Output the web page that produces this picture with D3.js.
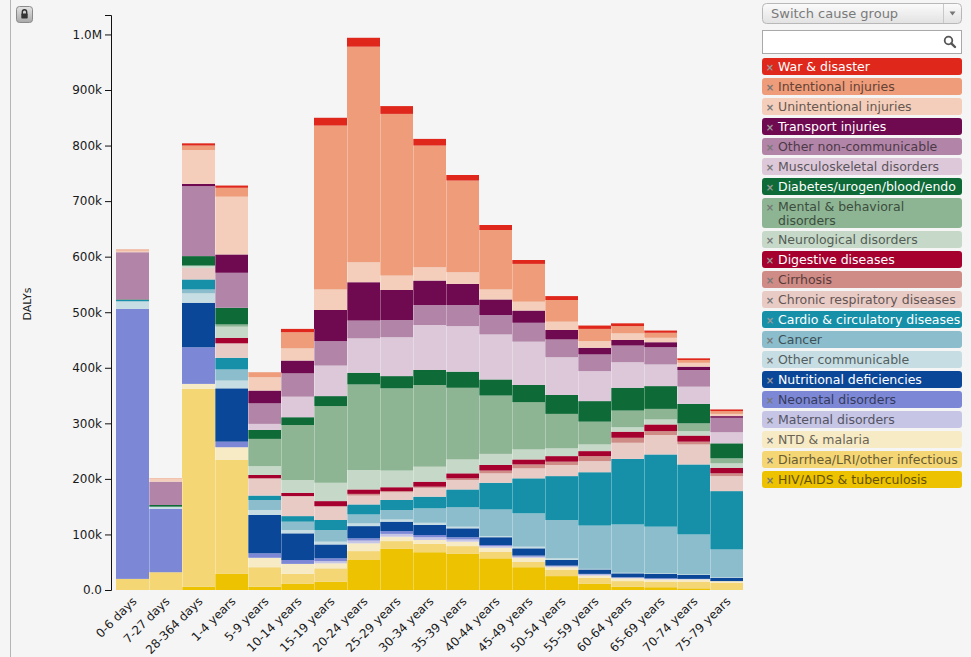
<!DOCTYPE html>
<html>
<head>
<meta charset="utf-8">
<script src="https://cdn.jsdelivr.net/npm/d3@7"></script>
<style>
body { margin: 0; background: #f5f5f5; font-family: "DejaVu Sans", Verdana, sans-serif; }
</style>
</head>
<body>
<svg id="chart" width="971" height="657"></svg>
<script>
// age groups on the x axis
var ageGroups = ["0-6 days", "7-27 days", "28-364 days", "1-4 years", "5-9 years", "10-14 years",
    "15-19 years", "20-24 years", "25-29 years", "30-34 years", "35-39 years", "40-44 years",
    "45-49 years", "50-54 years", "55-59 years", "60-64 years", "65-69 years", "70-74 years", "75-79 years"];

// DALYs in thousands, one array per cause group (stack order bottom -> top)
var hivTb        = [0, 0, 6, 29, 6, 11, 15, 54, 74, 68, 65, 57, 41, 25, 11, 6, 5, 3, 1];
var diarrheaLri  = [20, 32, 356, 205, 35, 18, 24, 16, 14, 15, 14, 12, 10, 11, 11, 10, 10, 12, 12];
var ntdMalaria   = [0, 0, 9, 23, 17, 18, 9, 14, 8, 7, 8, 7, 7, 5, 4, 5, 4, 4, 3];
var maternal     = [0, 0, 0, 0, 0, 0, 4, 5, 5, 5, 4, 3, 2, 2, 2, 1, 1, 1, 0];
var neonatal     = [486, 114, 66, 10, 8, 7, 5, 4, 5, 4, 4, 2, 2, 1, 1, 1, 1, 0, 0];
var nutritional  = [0, 0, 80, 96, 69, 48, 25, 22, 17, 18, 16, 14, 13, 10, 8, 7, 8, 7, 6];
var otherComm    = [13, 4, 17, 14, 9, 6, 5, 5, 4, 4, 3, 2, 3, 3, 1, 1, 1, 1, 1];
var cancer       = [1, 0, 7, 20, 18, 15, 21, 16, 17, 26, 35, 48, 60, 69, 78, 87, 84, 72, 50];
var cardio       = [2, 0, 18, 21, 8, 10, 18, 18, 18, 21, 32, 48, 63, 79, 96, 118, 130, 126, 105];
var chronicResp  = [0, 0, 21, 26, 31, 36, 24, 16, 14, 16, 17, 17, 18, 20, 20, 29, 35, 36, 27];
var cirrhosis    = [0, 0, 0, 0, 0, 0, 1, 3, 2, 2, 3, 5, 7, 6, 9, 9, 7, 5, 5];
var digestive    = [0, 0, 0, 10, 6, 6, 9, 8, 7, 9, 9, 10, 9, 10, 9, 11, 12, 11, 10];
var neurological = [0, 0, 4, 20, 16, 23, 33, 35, 30, 27, 25, 20, 18, 14, 12, 8, 9, 8, 8];
var mental       = [0, 0, 0, 4, 49, 99, 138, 154, 148, 147, 129, 105, 85, 62, 41, 30, 19, 14, 9];
var diabetes     = [1, 3, 17, 30, 16, 14, 18, 21, 22, 27, 29, 29, 31, 34, 37, 41, 41, 35, 27];
var musculo      = [0, 0, 0, 0, 11, 37, 55, 62, 70, 81, 82, 81, 78, 68, 54, 46, 39, 31, 20];
var otherNcd     = [85, 42, 126, 63, 37, 42, 44, 32, 31, 36, 38, 35, 34, 32, 30, 30, 31, 30, 26];
var transport    = [0, 0, 4, 33, 23, 23, 56, 69, 54, 44, 38, 28, 22, 17, 12, 10, 9, 6, 3];
var unintent     = [3, 5, 61, 104, 24, 22, 37, 36, 26, 24, 21, 18, 16, 15, 12, 12, 8, 7, 4];
var intentional  = [2, 1, 8, 16, 9, 29, 295, 388, 291, 219, 165, 107, 68, 39, 22, 13, 9, 5, 5];
var warDisaster  = [0, 0, 4, 4, 0, 6, 14, 16, 14, 12, 10, 9, 7, 7, 6, 5, 4, 3, 3];

var causeNames = ["HIV/AIDS & tuberculosis", "Diarrhea/LRI/other infectious", "NTD & malaria",
    "Maternal disorders", "Neonatal disorders", "Nutritional deficiencies", "Other communicable",
    "Cancer", "Cardio & circulatory diseases", "Chronic respiratory diseases", "Cirrhosis",
    "Digestive diseases", "Neurological disorders", "Mental & behavioral disorders",
    "Diabetes/urogen/blood/endo", "Musculoskeletal disorders", "Other non-communicable",
    "Transport injuries", "Unintentional injuries", "Intentional injuries", "War & disaster"];
var causeValues = [hivTb, diarrheaLri, ntdMalaria, maternal, neonatal, nutritional, otherComm,
    cancer, cardio, chronicResp, cirrhosis, digestive, neurological, mental, diabetes, musculo,
    otherNcd, transport, unintent, intentional, warDisaster];
var causeColors = ["#edc200", "#f4d675", "#f7ebc6", "#c6c5e6", "#7c88d6", "#0b4799", "#c6dde3",
    "#8cbdcc", "#1690a8", "#e9cbc6", "#cf8b86", "#a5002e", "#c6d9c8", "#8db593", "#0e6a37",
    "#dcc8d9", "#b285a8", "#6f0a50", "#f4cebb", "#ee9c7a", "#df271b"];
var lightText = ["War & disaster", "Transport injuries", "Diabetes/urogen/blood/endo",
    "Digestive diseases", "Cardio & circulatory diseases", "Nutritional deficiencies"];

var svg = d3.select("#chart");

// build rows for d3.stack
var rows = ageGroups.map(function (age, i) {
    var r = { age: age };
    causeNames.forEach(function (c, k) { r[c] = causeValues[k][i]; });
    return r;
});
var series = d3.stack().keys(causeNames)(rows);
var color = d3.scaleOrdinal().domain(causeNames).range(causeColors);

var x = d3.scaleBand().domain(ageGroups).range([116, 743]).padding(0);
var y = d3.scaleLinear().domain([0, 1035]).range([590, 15]);

// left border
svg.append("line").attr("x1", 10.5).attr("x2", 10.5).attr("y1", 0).attr("y2", 657)
    .attr("stroke", "#b5b5b5");

// lock button
var defs = svg.append("defs");
var grad = defs.append("linearGradient").attr("id", "btn").attr("x1", 0).attr("x2", 0).attr("y1", 0).attr("y2", 1);
grad.append("stop").attr("offset", "0%").attr("stop-color", "#e4e4e4");
grad.append("stop").attr("offset", "100%").attr("stop-color", "#a8a8a8");
var grad2 = defs.append("linearGradient").attr("id", "drop").attr("x1", 0).attr("x2", 0).attr("y1", 0).attr("y2", 1);
grad2.append("stop").attr("offset", "0%").attr("stop-color", "#fbfbfb");
grad2.append("stop").attr("offset", "100%").attr("stop-color", "#e2e2e2");

svg.append("rect").attr("x", 16.5).attr("y", 6.5).attr("width", 16).attr("height", 16).attr("rx", 3)
    .attr("fill", "url(#btn)").attr("stroke", "#8a8a8a");
svg.append("path").attr("d", "M22.3,14 v-2 a2.2,2.2 0 0 1 4.4,0 v2")
    .attr("fill", "none").attr("stroke", "#333").attr("stroke-width", 1.4);
svg.append("rect").attr("x", 21.3).attr("y", 13.5).attr("width", 6.4).attr("height", 5).attr("rx", 0.8)
    .attr("fill", "#333");

// bars
var layer = svg.append("g").selectAll("g")
    .data(series)
    .enter().append("g")
    .attr("fill", function (d) { return color(d.key); });

layer.selectAll("rect")
    .data(function (d) { return d; })
    .enter().append("rect")
    .attr("x", function (d) { return x(d.data.age); })
    .attr("width", x.bandwidth())
    .attr("y", function (d) { return y(d[1]); })
    .attr("height", function (d) { return y(d[0]) - y(d[1]); });

// thin light separators between bars
svg.append("g").selectAll("line")
    .data(ageGroups.slice(1))
    .enter().append("line")
    .attr("x1", function (d) { return x(d) + 0.5; })
    .attr("x2", function (d) { return x(d) + 0.5; })
    .attr("y1", function (d, i) {
        var prev = d3.sum(causeValues, function (v) { return v[i]; });
        var cur = d3.sum(causeValues, function (v) { return v[i + 1]; });
        return y(Math.min(prev, cur));
    })
    .attr("y2", y(0))
    .attr("stroke", "#fff").attr("stroke-opacity", 0.3);

// y axis
var yAxis = d3.axisLeft(y)
    .tickValues(d3.range(0, 1001, 100))
    .tickSizeOuter(6)
    .tickFormat(function (d) {
        if (d == 0) return "0.0";
        if (d == 1000) return "1.0M";
        return d + "k";
    });
var yg = svg.append("g")
    .attr("transform", "translate(111,0)")
    .call(yAxis);
yg.selectAll("text").style("font-size", "12px").style("font-family", "DejaVu Sans, Verdana, sans-serif")
    .attr("fill", "#1a1a1a");
yg.selectAll("path, line").attr("stroke", "#111");

svg.append("text")
    .attr("transform", "translate(31,304) rotate(-90)")
    .attr("text-anchor", "middle")
    .style("font-size", "11px")
    .attr("fill", "#222")
    .text("DALYs");

// x axis labels
var xg = svg.append("g")
    .attr("transform", "translate(0,592)")
    .call(d3.axisBottom(x).tickSize(0));
xg.select(".domain").remove();
xg.selectAll("text")
    .style("font-size", "12px").style("font-family", "DejaVu Sans, Verdana, sans-serif")
    .attr("fill", "#1a1a1a")
    .attr("text-anchor", "end")
    .attr("x", 0).attr("y", 0).attr("dy", "0.35em")
    .attr("transform", "translate(2,7) rotate(-45)");

// dropdown
svg.append("rect").attr("x", 762.5).attr("y", 3.5).attr("width", 199).attr("height", 20).attr("rx", 4)
    .attr("fill", "url(#drop)").attr("stroke", "#b8b8b8");
svg.append("line").attr("x1", 943.5).attr("x2", 943.5).attr("y1", 4).attr("y2", 23).attr("stroke", "#c8c8c8");
svg.append("path").attr("d", "M949.5,11.5 L955.5,11.5 L952.5,15.5 Z").attr("fill", "#777");
svg.append("text").attr("x", 771).attr("y", 18).style("font-size", "13px").attr("fill", "#7a7a7a")
    .text("Switch cause group");

// search box
svg.append("rect").attr("x", 762.5).attr("y", 30.5).attr("width", 199).attr("height", 23)
    .attr("fill", "#fff").attr("stroke", "#a9a9a9");
svg.append("circle").attr("cx", 948.5).attr("cy", 40.5).attr("r", 3.8)
    .attr("fill", "none").attr("stroke", "#555").attr("stroke-width", 1.8);
svg.append("line").attr("x1", 951.3).attr("y1", 43.3).attr("x2", 955).attr("y2", 47)
    .attr("stroke", "#555").attr("stroke-width", 2.4).attr("stroke-linecap", "round");

// legend (top -> bottom is reverse stack order)
var legendItems = causeNames.slice().reverse();
var legendY = [];
var yy = 58;
legendItems.forEach(function (name) {
    var h = name == "Mental & behavioral disorders" ? 30 : 17;
    legendY.push({ name: name, y: yy, h: h });
    yy += h + 3;
});

var legend = svg.append("g").selectAll("g")
    .data(legendY)
    .enter().append("g")
    .attr("transform", function (d) { return "translate(762," + d.y + ")"; });

legend.append("rect")
    .attr("width", 200)
    .attr("height", function (d) { return d.h; })
    .attr("rx", 3)
    .attr("fill", function (d) { return color(d.name); });

legend.append("text")
    .attr("x", 8).attr("y", 12.5)
    .attr("text-anchor", "middle")
    .style("font-size", "10px")
    .style("font-weight", "bold")
    .attr("fill", function (d) { return lightText.indexOf(d.name) >= 0 ? "#9a9a9a" : "#777"; })
    .text("\u00d7");

legend.append("text")
    .attr("x", 16).attr("y", 12.5)
    .style("font-size", "12.5px")
    .attr("fill", function (d) {
        if (lightText.indexOf(d.name) >= 0) return "#ffffff";
        return d3.color(color(d.name)).darker(2.4).formatHex();
    })
    .each(function (d) {
        var t = d3.select(this);
        if (d.name == "Mental & behavioral disorders") {
            t.append("tspan").attr("x", 16).text("Mental & behavioral");
            t.append("tspan").attr("x", 16).attr("dy", 14.5).text("disorders");
        } else {
            t.text(d.name);
        }
    });
</script>
</body>
</html>
